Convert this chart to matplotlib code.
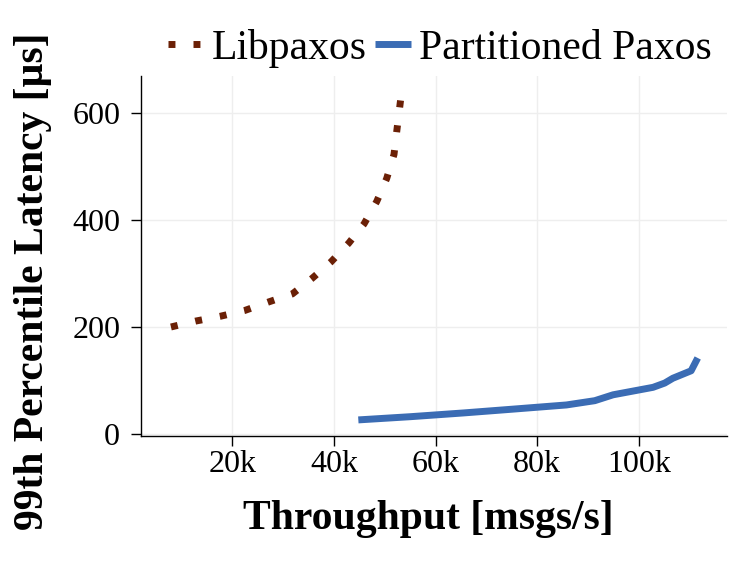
"""99th percentile latency vs throughput: Libpaxos vs Partitioned Paxos."""

import matplotlib
matplotlib.use("Agg")
import matplotlib.pyplot as plt
from matplotlib.ticker import FuncFormatter

plt.rcParams.update({"font.family": "Liberation Serif", "figure.dpi": 100})

BROWN = "#6B2006"; BLUE = "#3B6CB4"; GRID = "#EEEEEE"

# values (throughput in msgs/s, latency in us)
libpaxos_tput = [7890, 12720, 17580, 22440, 27160, 31800, 35670, 39410,
                 42890, 45900, 48400, 50360, 51800, 52390, 53100]
libpaxos_lat = [200, 211, 220, 231, 247, 262, 291, 322,
                357, 393, 435, 478, 523, 570, 625]

ppaxos_tput = [44780, 55000, 65430, 75000, 85760, 91330, 94930, 102800,
               105100, 106700, 110300, 111600]
ppaxos_lat = [26, 32, 39, 46, 54, 62, 73, 87, 95, 104, 118, 142]

xticks = [20000, 40000, 60000, 80000, 100000]
yticks = [0, 200, 400, 600]


def main():
    fig = plt.figure(figsize=(7.47, 5.61))
    ax = fig.add_axes([0.1888, 0.222, 0.784, 0.6425])

    ax.plot(libpaxos_tput, libpaxos_lat, color=BROWN, lw=5,
            ls=(0, (1, 2.6)), label="Libpaxos")
    ax.plot(ppaxos_tput, ppaxos_lat, color=BLUE, lw=5,
            solid_capstyle="butt", label="Partitioned Paxos")

    ax.set_xlim(2000, 117300)
    ax.set_ylim(-5, 670)
    ax.set_xticks(xticks)
    ax.set_yticks(yticks)
    ax.xaxis.set_major_formatter(FuncFormatter(lambda v, p: f"{int(v / 1000)}k"))

    ax.grid(True, color=GRID, lw=1.0)
    ax.set_axisbelow(True)
    for s in ("top", "right"):
        ax.spines[s].set_visible(False)
    for s in ("left", "bottom"):
        ax.spines[s].set_linewidth(1.0)
    ax.tick_params(labelsize=23, length=7, width=1.0)
    ax.tick_params(axis="y", pad=8)
    ax.tick_params(axis="x", pad=3)

    ax.set_xlabel("Throughput [msgs/s]", fontsize=30, fontweight="bold")
    ax.set_ylabel("99th Percentile Latency [µs]", fontsize=30, fontweight="bold")
    ax.xaxis.set_label_coords(0.49, -0.175)
    ax.yaxis.set_label_coords(-0.152, 0.43)

    ax.legend(loc="center", bbox_to_anchor=(0.589, 0.914),
              bbox_transform=fig.transFigure, ncol=2, frameon=False,
              fontsize=30, handlelength=0.85, handletextpad=0.2,
              columnspacing=0.2, borderpad=0, borderaxespad=0)

    fig.savefig("out.png", dpi=100)


if __name__ == "__main__":
    main()
